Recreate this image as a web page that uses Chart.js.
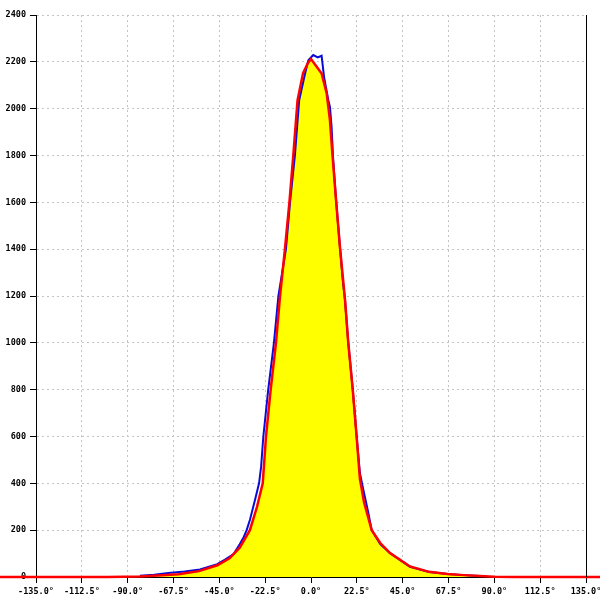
<!DOCTYPE html>
<html>
<head>
<meta charset="utf-8">
<script src="https://cdn.jsdelivr.net/npm/chart.js@4"></script>
<style>
html,body{margin:0;padding:0;background:#fff;}
#wrap{width:600px;height:600px;}
</style>
</head>
<body>
<div id="wrap"><canvas id="c" width="600" height="600"></canvas></div>
<script>
// Histogram (blue) — angle in degrees, counts
const histAngles = [-84,-77,-70,-62,-54.5,-46,-42,-38,-35,-33,-31.6,-30,-27.5,-25.5,-24.5,-23.4,-21,-18.2,-16,-12.3,-10.3,-7.9,-5.8,-2.9,-1.3,1.1,3.3,5.2,6.4,8.5,9.3,10.1,10.8,12.3,14.2,15.6,16.7,18.3,20.5,22.4,24,25.5,28,29.8,34,38.8,48.6,58,67,75,83,86];
const histCounts = [5,10,17,23,32,55,75,98,140,171,200,243,329,400,470,600,800,1000,1200,1400,1600,1800,2036,2150,2207,2229,2219,2226,2136,2036,2008,1923,1795,1610,1410,1268,1183,1000,800,600,444,380,280,200,140,102,43,21,13,8,4,0];
// Fitted curve (red) — angle in degrees, counts
const fitAngles = [-160,-100,-84,-75,-65,-55,-46,-40,-35,-30,-26.5,-23.7,-22.1,-19.8,-17.2,-15.2,-12.8,-10.6,-8.7,-6.6,-3.9,-1.5,0,2.8,5.2,7.7,9.3,10.6,12.3,14.2,16.7,18.3,20.5,22.4,24,26,29.8,34,38.8,48.6,58,67,75,83,90,100,160];
const fitCounts = [0,0,2,6,12,25,50,80,125,200,300,400,600,800,1000,1200,1400,1600,1800,2036,2152,2195,2212,2179,2150,2065,1951,1795,1610,1410,1183,1000,800,600,420,320,200,145,102,45,22,13,8,4,1,0,0];
// Axes
const xMin = -135, xMax = 135, xStep = 22.5;
const yMin = 0, yMax = 2400, yStep = 200;

const toPts = (xs, ys) => xs.map((x, i) => ({x: x, y: ys[i]}));

const tickFont = {family: 'DejaVu Sans Mono', size: 8.5, weight: 'bold'};

const rightBorder = {
  id: 'rightBorder',
  afterDatasetsDraw(chart) {
    const a = chart.chartArea, ctx = chart.ctx;
    ctx.save();
    ctx.strokeStyle = '#000';
    ctx.lineWidth = 1;
    ctx.beginPath();
    ctx.moveTo(Math.round(a.right) + 0.5, a.top);
    ctx.lineTo(Math.round(a.right) + 0.5, a.bottom);
    ctx.stroke();
    ctx.restore();
  }
};

new Chart(document.getElementById('c'), {
  type: 'line',
  data: {
    datasets: [
      {
        data: toPts(fitAngles, fitCounts),
        borderWidth: 0,
        borderColor: 'rgba(0,0,0,0)',
        backgroundColor: '#ffff00',
        fill: 'origin',
        pointRadius: 0,
        tension: 0,
        order: 3
      },
      {
        data: toPts(histAngles, histCounts),
        borderColor: '#0a0ad8',
        borderWidth: 2,
        fill: false,
        pointRadius: 0,
        tension: 0,
        order: 2
      },
      {
        data: toPts(fitAngles, fitCounts),
        borderColor: '#ff0000',
        borderWidth: 2.5,
        fill: false,
        pointRadius: 0,
        tension: 0,
        clip: {left: 40, right: 20, top: 0, bottom: 5},
        order: 1
      }
    ]
  },
  options: {
    responsive: false,
    animation: false,
    layout: {padding: {top: 15, right: 14, left: 0, bottom: 0}},
    plugins: {legend: {display: false}, tooltip: {enabled: false}},
    scales: {
      x: {
        type: 'linear',
        min: xMin, max: xMax,
        afterFit: s => { s.height = 23; s.paddingLeft = 0; s.paddingRight = 0; },
        afterBuildTicks: s => {
          const t = [];
          for (let i = 0; xMin + i * xStep <= xMax + 1e-9; i++) t.push({value: xMin + i * xStep});
          s.ticks = t;
        },
        ticks: {
          autoSkip: false, maxRotation: 0, minRotation: 0,
          color: '#000', font: tickFont, padding: 4,
          callback: v => (Math.abs(v) < 1e-9 ? 0 : Number(v)).toFixed(1) + '\u00b0'
        },
        grid: {color: '#c4c4c4', tickColor: '#000', tickLength: 6, tickBorderDash: [], lineWidth: 1},
        border: {color: '#000', width: 1, dash: [2, 3]}
      },
      y: {
        type: 'linear',
        min: yMin, max: yMax,
        afterFit: s => { s.width = 36; s.paddingTop = 0; s.paddingBottom = 0; },
        ticks: {stepSize: yStep, color: '#000', font: tickFont, padding: 4,
          callback: v => String(v)},
        grid: {color: '#c4c4c4', tickColor: '#000', tickLength: 6, tickBorderDash: [], lineWidth: 1},
        border: {color: '#000', width: 1, dash: [2, 3]}
      }
    }
  },
  plugins: [rightBorder]
});
</script>
</body>
</html>
